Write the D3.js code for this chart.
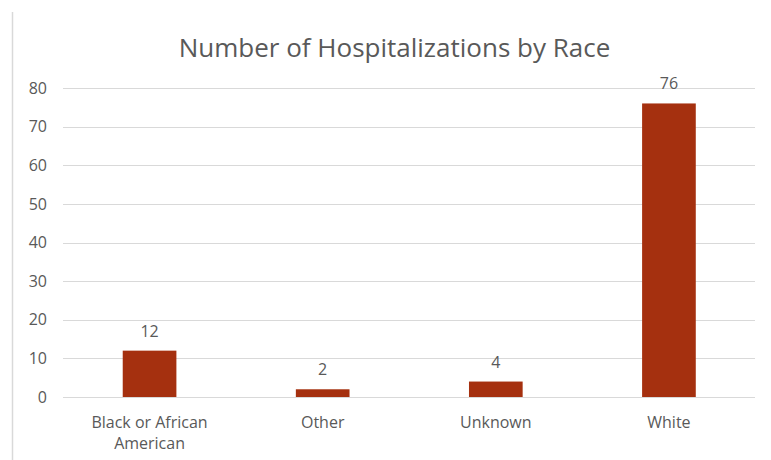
<!DOCTYPE html>
<html><head><meta charset="utf-8">
<script src="https://cdn.jsdelivr.net/npm/d3@7"></script>
<style>body{margin:0;background:#fff;} svg{display:block;}</style>
</head><body>
<script>
const categories = ["Black or African American", "Other", "Unknown", "White"];
const categoryLines = [["Black or African", "American"], ["Other"], ["Unknown"], ["White"]];
const values = [12, 2, 4, 76];
const yTicks = [0, 10, 20, 30, 40, 50, 60, 70, 80];
const title = "Number of Hospitalizations by Race";

const W = 771, H = 460;
const svg = d3.select("body").append("svg").attr("width", W).attr("height", H);
const font = "'Open Sans', 'Liberation Sans', sans-serif";
const textColor = "#595959";

// frame left border
svg.append("line").attr("x1", 12.5).attr("x2", 12.5).attr("y1", 12).attr("y2", H)
  .attr("stroke", "#d9d9d9").attr("stroke-width", 1.5);

const x = d3.scaleBand().domain(categories).range([63, 755.5]).paddingInner(0.69).paddingOuter(0.345);
const y = d3.scaleLinear().domain([0, 80]).range([397, 88]);

svg.append("text").attr("x", 394.5).attr("y", 57).attr("text-anchor", "middle")
  .attr("font-family", font).attr("font-size", 26).attr("fill", textColor).text(title);

const grid = svg.append("g");
grid.selectAll("line").data(yTicks).join("line")
  .attr("x1", 63).attr("x2", 755).attr("y1", d => Math.round(y(d)) + 0.5).attr("y2", d => Math.round(y(d)) + 0.5)
  .attr("stroke", "#d9d9d9").attr("stroke-width", 1.2);

const yAxis = d3.axisLeft(y).tickValues(yTicks).tickSize(0).tickPadding(0);
const ga = svg.append("g").attr("transform", "translate(47,0)").call(yAxis);
ga.select(".domain").remove();
ga.selectAll("text").attr("font-family", font).attr("font-size", 16).attr("fill", textColor);

svg.append("g").selectAll("rect").data(values).join("rect")
  .attr("x", (d, i) => x(categories[i])).attr("width", x.bandwidth())
  .attr("y", d => y(d)).attr("height", d => y(0) - y(d)).attr("fill", "#A5300F");

svg.append("g").selectAll("text").data(values).join("text")
  .attr("x", (d, i) => x(categories[i]) + x.bandwidth() / 2).attr("y", d => y(d) - 14)
  .attr("text-anchor", "middle").attr("font-family", font).attr("font-size", 16).attr("fill", textColor)
  .text(d => d);

const xl = svg.append("g").selectAll("text").data(categories).join("text")
  .attr("x", d => x(d) + x.bandwidth() / 2).attr("y", 428)
  .attr("text-anchor", "middle").attr("font-family", font).attr("font-size", 16).attr("fill", textColor);
xl.each(function(d, i) {
  categoryLines[i].forEach((line, k) => {
    d3.select(this).append("tspan").attr("x", x(d) + x.bandwidth() / 2).attr("dy", k === 0 ? 0 : 21).text(line);
  });
});
</script>
</body></html>
